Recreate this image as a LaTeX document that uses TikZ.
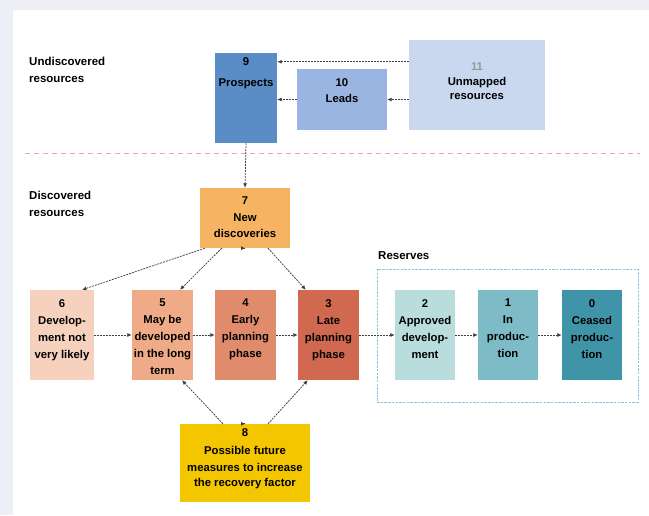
\documentclass[tikz,border=0pt]{standalone}
\usepackage{fontspec}
\setmainfont{Liberation Sans}
\usetikzlibrary{arrows.meta,calc}
\definecolor{bgl}{HTML}{EEEEF7}
\definecolor{c9}{HTML}{5A8DC6}
\definecolor{c10}{HTML}{9AB5E2}
\definecolor{c11}{HTML}{C9D7EF}
\definecolor{c7}{HTML}{F6B462}
\definecolor{c6}{HTML}{F6D2BE}
\definecolor{c5}{HTML}{EFAA88}
\definecolor{c4}{HTML}{E08C6C}
\definecolor{c3}{HTML}{D0694F}
\definecolor{c2}{HTML}{B9DCDC}
\definecolor{c1}{HTML}{7DBCC6}
\definecolor{c0}{HTML}{3F95A7}
\definecolor{c8}{HTML}{F3C600}
\definecolor{cframe}{HTML}{8AC6DA}
\definecolor{csep}{HTML}{E6A6AE}
\tikzset{
  box/.style={draw=none, inner sep=0, rectangle},
  txt/.style={font=\bfseries\fontsize{11.3}{17}\selectfont, align=center, inner sep=0, anchor=north},
  side/.style={font=\bfseries\fontsize{11.5}{17}\selectfont, align=left, inner sep=0, anchor=north west},
  arr/.style={draw=black!75, line width=0.75pt, dash pattern=on 2pt off 1pt, -{Latex[length=4.5pt,width=4pt]}}
}
\begin{document}
\begin{tikzpicture}[x=1pt,y=-1pt]
\useasboundingbox (0,0) rectangle (649,515);
\fill[bgl] (0,0) rectangle (649,515);
\fill[white] (13,10) rectangle (649,515);

% separator
\coordinate (sepL) at (25,153);
\coordinate (sepR) at (640,153);
\draw[csep, line width=0.8pt, dash pattern=on 5pt off 4pt] (sepL) -- (sepR);

% side labels
\node[side] (lund) at (29,57) {Undiscovered\\resources};
\node[side] (ldis) at (29,191) {Discovered\\resources};
\node[side] (lres) at (378,251) {Reserves};

% reserves frame
\node[box, draw=cframe, line width=0.9pt, dash pattern=on 2.5pt off 1.2pt, minimum width=261, minimum height=133] (frame) at (507.5,335.5) {};

% undiscovered boxes
\node[box, fill=c9, minimum width=62, minimum height=90] (n9) at (246,98) {};
\node[box, fill=c10, minimum width=90, minimum height=61] (n10) at (342,99.5) {};
\node[box, fill=c11, minimum width=136, minimum height=90] (n11) at (477,85) {};
\node[txt] (t9) at (246,57) {9\\[4pt]Prospects};
\node[txt] (t10) at (342,78) {10\\[-1pt]Leads};
\node[txt] (t11) at (477,63) {\textcolor{black!40}{11}\\[-2pt]Unmapped\\[-3pt]resources};

% discovered
\node[box, fill=c7, minimum width=90, minimum height=60] (n7) at (245,218) {};
\node[txt] (t7) at (245,197) {7\\[-0.5pt]New\\[-0.5pt]discoveries};

\node[box, fill=c6, minimum width=64, minimum height=90] (n6) at (62,335) {};
\node[box, fill=c5, minimum width=61, minimum height=90] (n5) at (162.5,335) {};
\node[box, fill=c4, minimum width=61, minimum height=90] (n4) at (245.5,335) {};
\node[box, fill=c3, minimum width=61, minimum height=90] (n3) at (328.5,335) {};
\node[box, fill=c2, minimum width=60, minimum height=90] (n2) at (425,335) {};
\node[box, fill=c1, minimum width=60, minimum height=90] (n1) at (508,335) {};
\node[box, fill=c0, minimum width=60, minimum height=90] (n0) at (592,335) {};

\node[txt] (t6) at (62,299) {6\\Develop-\\ment not\\very likely};
\node[txt] (t5) at (162.5,299) {5\\May be\\developed\\in the long\\term};
\node[txt] (t4) at (245.5,299) {4\\Early\\planning\\phase};
\node[txt] (t3) at (328.5,299) {3\\Late\\planning\\phase};
\node[txt] (t2) at (425,299) {2\\Approved\\develop-\\ment};
\node[txt] (t1) at (508,299) {1\\In\\produc-\\tion};
\node[txt] (t0) at (592,299) {0\\Ceased\\produc-\\tion};

\node[box, fill=c8, minimum width=130, minimum height=78] (n8) at (245,463) {};
\node[txt] (t8) at (245,428) {8\\[1pt]Possible future\\measures to increase\\[-2pt]the recovery factor};

% arrows: undiscovered
\coordinate (a11) at ($(n11.north west)+(0,22)$);
\draw[arr] (a11) -- (a11 -| n9.east);
\draw[arr] (n10.west) -- (n10.west -| n9.east);
\draw[arr] (n10.east -| n11.west) -- (n10.east);
\draw[arr] (n9.south) -- (n7.north);

% from 7
\draw[arr] ($(n7.south west)+(5,0)$) -- ($(n6.north)+(20,0)$);
\draw[arr] ($(n7.south west)+(22,0)$) -- ($(n5.north)+(17.5,0)$);
\draw[arr] (n7.south) -- (n7.south -| n4.north);
\draw[arr] ($(n7.south)+(23,0)$) -- ($(n3.north west)+(8,0)$);

% from 8
\draw[arr] ($(n8.north)+(-22,0)$) -- ($(n5.south)+(19.5,0)$);
\draw[arr] (n8.north) -- (n8.north -| n4.south);
\draw[arr] ($(n8.north)+(23,0)$) -- ($(n3.south west)+(10,0)$);

% horizontal chain
\draw[arr] (n6.east) -- (n5.west);
\draw[arr] (n5.east) -- (n4.west);
\draw[arr] (n4.east) -- (n3.west);
\draw[arr] (n3.east) -- (n2.west);
\draw[arr] (n2.east) -- (n1.west);
\draw[arr] (n1.east) -- (n0.west);
\end{tikzpicture}
\end{document}
